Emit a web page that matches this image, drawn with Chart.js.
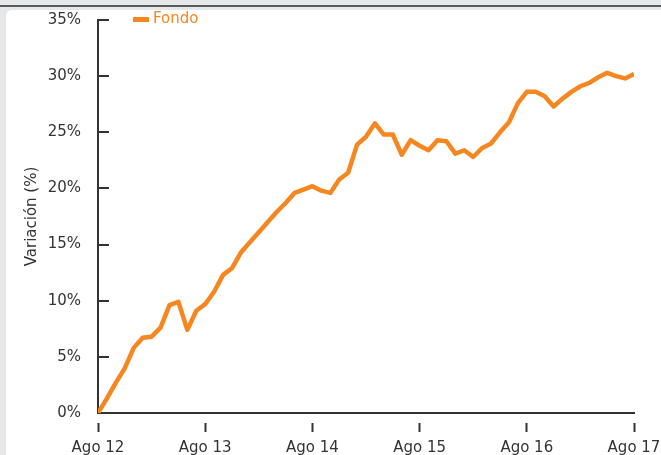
<!DOCTYPE html>
<html>
<head>
<meta charset="utf-8">
<script src="https://cdn.jsdelivr.net/npm/chart.js@4/dist/chart.umd.min.js"></script>
<style>
html,body{margin:0;padding:0;width:661px;height:455px;overflow:hidden;background:#e6e7e8;}
#topline{position:absolute;left:0;top:5px;width:661px;height:2px;background:#58595b;}
#panel{position:absolute;left:6px;top:10px;width:720px;height:520px;background:#ffffff;border-radius:6px;}
#wrap{position:absolute;left:0;top:0;width:700px;height:480px;}
#legend{position:absolute;left:133px;top:9px;font-family:'DejaVu Sans';font-size:15px;line-height:18px;white-space:nowrap;}
#legend .sw{display:inline-block;width:16px;height:5px;vertical-align:middle;margin-right:4px;position:relative;top:1px;}
</style>
</head>
<body>
<div id="topline"></div>
<div id="panel"></div>
<div id="wrap"><canvas id="c" width="700" height="480"></canvas></div>
<div id="legend"></div>
<script>
// ---- data ----
const monthNames = ['Ago','Sep','Oct','Nov','Dic','Ene','Feb','Mar','Abr','May','Jun','Jul'];
const tickLabels = ['Ago 12','Ago 13','Ago 14','Ago 15','Ago 16','Ago 17'];
const seriesName = 'Fondo';
const fondo = [
  0.0, 1.3, 2.7, 4.0, 5.8, 6.7, 6.8, 7.6, 9.6, 9.9, 7.4, 9.1,
  9.7, 10.8, 12.3, 12.9, 14.3, 15.2, 16.1, 17.0, 17.9, 18.7, 19.6, 19.9,
  20.2, 19.8, 19.6, 20.8, 21.4, 23.9, 24.6, 25.8, 24.8, 24.8, 23.0, 24.3,
  23.8, 23.4, 24.3, 24.2, 23.1, 23.4, 22.8, 23.6, 24.0, 25.0, 25.9, 27.6,
  28.6, 28.6, 28.2, 27.3, 28.0, 28.6, 29.1, 29.4, 29.9, 30.3, 30.0, 29.8,
  30.2
];
const yTicks = [0, 5, 10, 15, 20, 25, 30, 35];

// monthly categories: Ago 12 ... Ago 17 (index = month position on the x scale)
const categories = [];
for (let i = 0; i < fondo.length; i++) {
  const yr = 12 + Math.floor((i + 7) / 12);
  categories.push(monthNames[i % 12] + ' ' + yr);
}

const ORANGE = '#f6861f';
const AXIS = '#333333';
const FONT = {family: "'DejaVu Sans', Verdana, sans-serif", size: 15};

const chart = new Chart(document.getElementById('c').getContext('2d'), {
  type: 'line',
  data: {
    labels: categories,
    datasets: [{
      label: seriesName,
      data: fondo.map((v, i) => ({x: i, y: v})),
      borderColor: ORANGE,
      backgroundColor: ORANGE,
      borderWidth: 4.5,
      pointRadius: 0,
      tension: 0,
      fill: false,
      borderJoinStyle: 'round'
    }]
  },
  options: {
    responsive: false,
    animation: false,
    parsing: true,
    layout: {padding: {left: 19, right: 66, top: 20, bottom: 17}},
    plugins: {legend: {display: false}, tooltip: {enabled: false}},
    scales: {
      x: {
        type: 'linear',
        min: 0,
        max: categories.length - 1,
        afterFit: (s) => { s.height = 50; },
        afterBuildTicks: (s) => {
          s.ticks = categories
            .map((lab, i) => ({value: i, lab}))
            .filter(t => tickLabels.includes(t.lab))
            .map(t => ({value: t.value}));
        },
        grid: {
          display: true,
          drawOnChartArea: false,
          drawTicks: true,
          tickLength: 19,
          tickWidth: 2,
          tickColor: AXIS,
          tickBorderDash: [0, 9, 9, 200]
        },
        border: {display: true, color: AXIS, width: 2},
        ticks: {
          autoSkip: false,
          maxRotation: 0,
          padding: 7,
          color: AXIS,
          font: FONT,
          callback: (v) => categories[v]
        }
      },
      y: {
        min: yTicks[0],
        max: yTicks[yTicks.length - 1],
        afterFit: (s) => { s.width = 79; },
        afterBuildTicks: (s) => { s.ticks = yTicks.map(v => ({value: v})); },
        grid: {display: true, drawTicks: true, tickLength: 17, tickColor: 'rgba(0,0,0,0)', lineWidth: 2, color: AXIS},
        border: {display: true, color: AXIS, width: 2, dash: [10, 2000]},
        ticks: {
          padding: 0,
          color: AXIS,
          font: FONT,
          callback: (v) => v + '%'
        },
        title: {
          display: true,
          text: 'Variación (%)',
          color: AXIS,
          font: FONT,
          padding: {top: 4, bottom: 4}
        }
      }
    }
  }
});

// HTML legend built from the chart's datasets
const lg = document.getElementById('legend');
chart.data.datasets.forEach(ds => {
  const sw = document.createElement('span');
  sw.className = 'sw';
  sw.style.background = ds.borderColor;
  const tx = document.createElement('span');
  tx.textContent = ds.label;
  tx.style.color = ds.borderColor;
  lg.appendChild(sw);
  lg.appendChild(tx);
});
</script>
</body>
</html>
